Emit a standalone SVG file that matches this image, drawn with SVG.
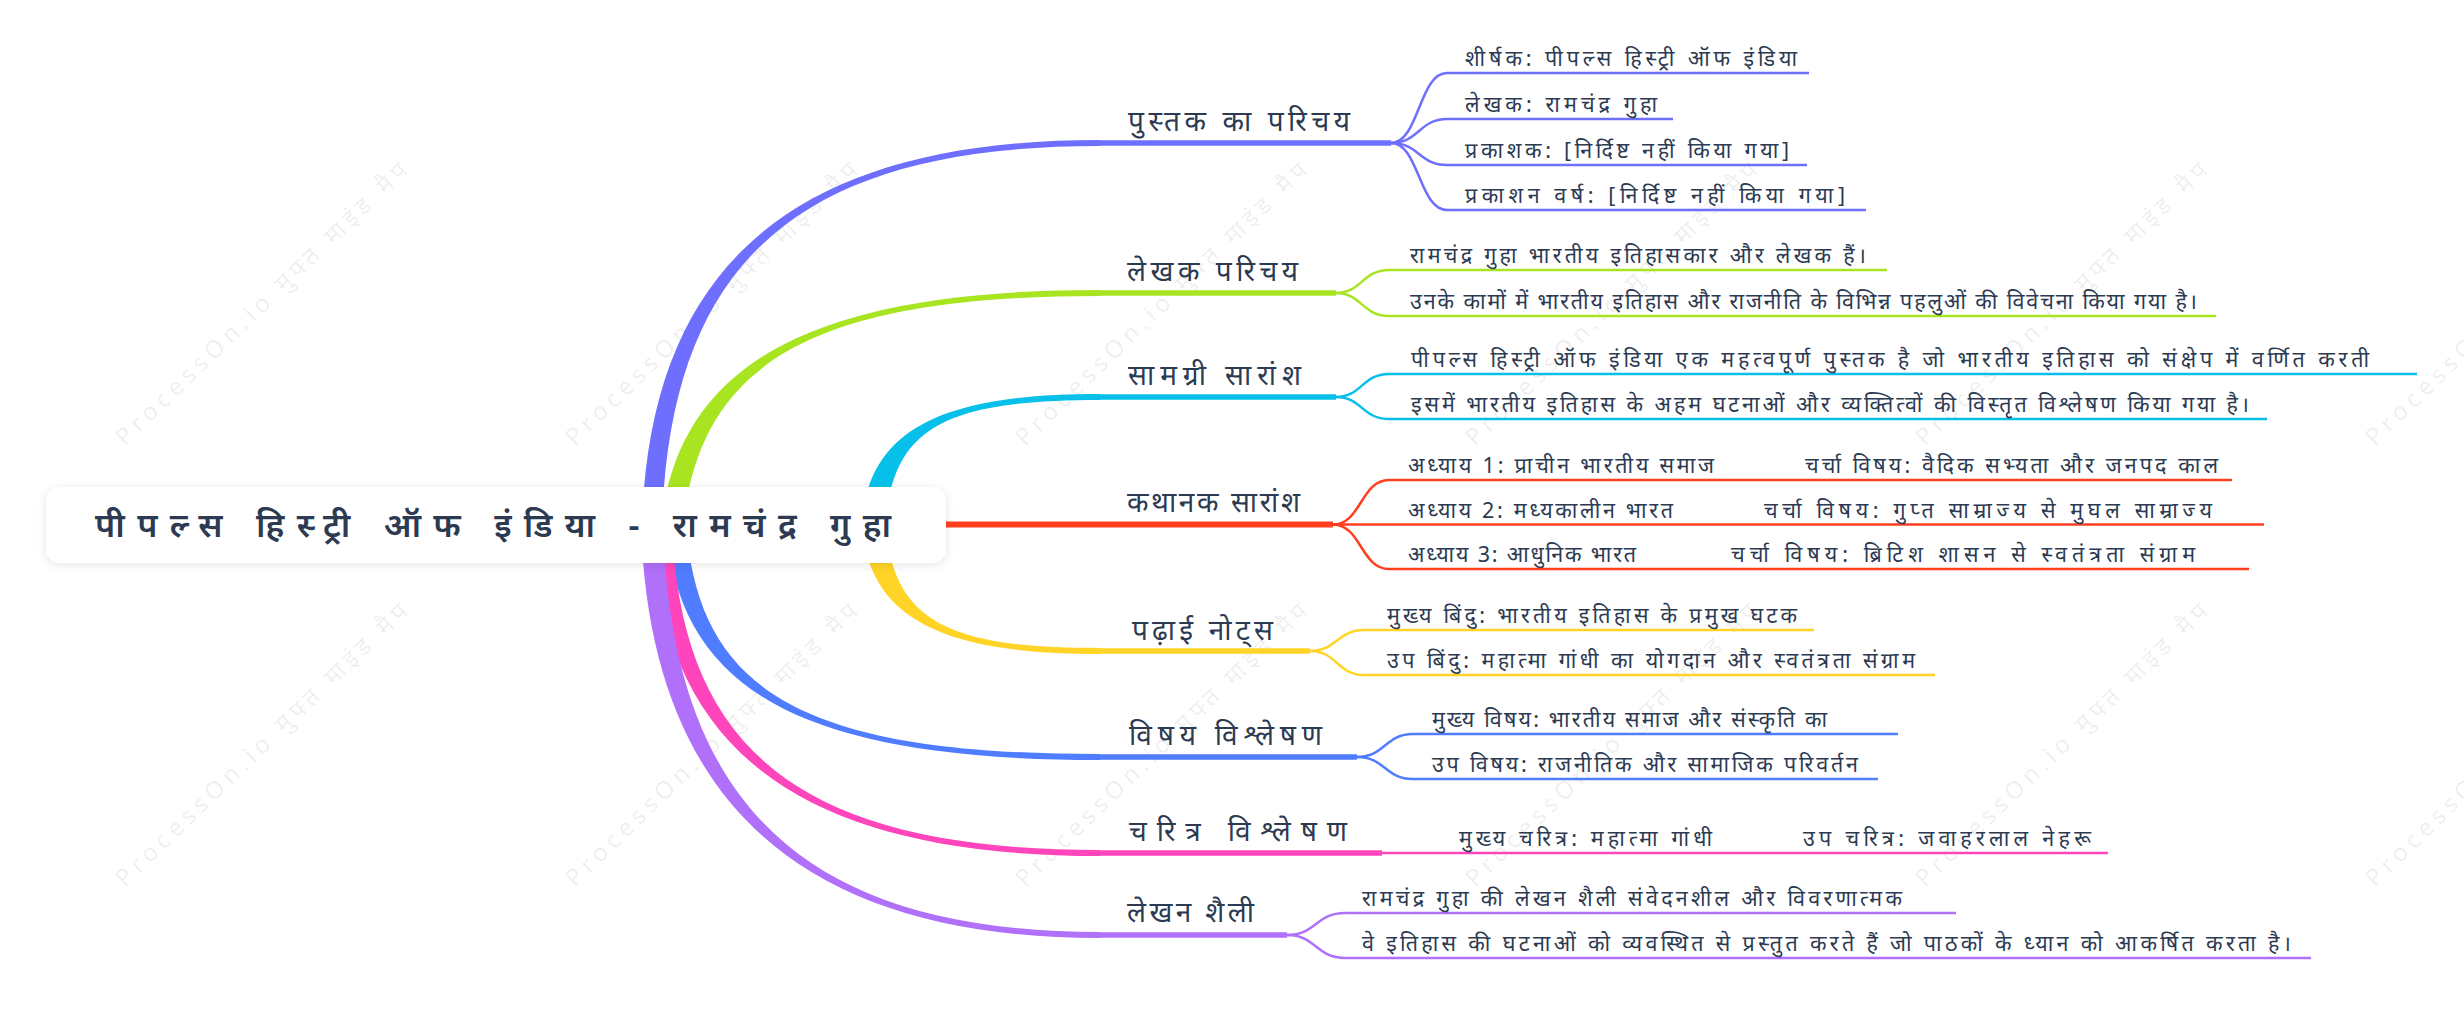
<svg xmlns="http://www.w3.org/2000/svg" width="2464" height="1019" viewBox="0 0 2464 1019">
<defs>
<filter id="sh" x="-5%" y="-30%" width="110%" height="160%">
<feDropShadow dx="0" dy="2" stdDeviation="5" flood-color="#000" flood-opacity="0.10"/>
</filter>
<style>
text{font-family:"Noto Sans","Liberation Sans",sans-serif;fill:#2c3a52}
.root{font-size:34px;font-weight:600}
.br{font-size:28px}
.lf{font-size:21.5px}
.wm{font-size:24px;fill:#000;fill-opacity:0.08}
.bl{fill:none;stroke-width:5.5}
.ll{fill:none;stroke-width:2.5}
</style>
</defs>
<rect width="2464" height="1019" fill="#fff"/>
<g id="watermarks">
<text class="wm" transform="translate(125,447) rotate(-44)" textLength="395" lengthAdjust="spacing">ProcessOn.io मुफ्त माइंड मैप</text>
<text class="wm" transform="translate(575,447) rotate(-44)" textLength="395" lengthAdjust="spacing">ProcessOn.io मुफ्त माइंड मैप</text>
<text class="wm" transform="translate(1025,447) rotate(-44)" textLength="395" lengthAdjust="spacing">ProcessOn.io मुफ्त माइंड मैप</text>
<text class="wm" transform="translate(1475,447) rotate(-44)" textLength="395" lengthAdjust="spacing">ProcessOn.io मुफ्त माइंड मैप</text>
<text class="wm" transform="translate(1925,447) rotate(-44)" textLength="395" lengthAdjust="spacing">ProcessOn.io मुफ्त माइंड मैप</text>
<text class="wm" transform="translate(2375,447) rotate(-44)" textLength="395" lengthAdjust="spacing">ProcessOn.io मुफ्त माइंड मैप</text>
<text class="wm" transform="translate(125,888) rotate(-44)" textLength="395" lengthAdjust="spacing">ProcessOn.io मुफ्त माइंड मैप</text>
<text class="wm" transform="translate(575,888) rotate(-44)" textLength="395" lengthAdjust="spacing">ProcessOn.io मुफ्त माइंड मैप</text>
<text class="wm" transform="translate(1025,888) rotate(-44)" textLength="395" lengthAdjust="spacing">ProcessOn.io मुफ्त माइंड मैप</text>
<text class="wm" transform="translate(1475,888) rotate(-44)" textLength="395" lengthAdjust="spacing">ProcessOn.io मुफ्त माइंड मैप</text>
<text class="wm" transform="translate(1925,888) rotate(-44)" textLength="395" lengthAdjust="spacing">ProcessOn.io मुफ्त माइंड मैप</text>
<text class="wm" transform="translate(2375,888) rotate(-44)" textLength="395" lengthAdjust="spacing">ProcessOn.io मुफ्त माइंड मैप</text>
</g>
<g id="connectors">
<path fill="#A8E520" d="M 661 524 C 679 370, 800 290, 1100 290 L 1100 296 C 800 296, 701 370, 683 524 Z"/>
<path fill="#6E6EFF" d="M 642 524 C 650 260, 800 140, 1100 140 L 1100 146 C 800 146, 670 260, 662 524 Z"/>
<path fill="#06C0EA" d="M 862 524 C 868 425, 950 394, 1100 394 L 1100 400 C 950 400, 892 425, 886 524 Z"/>
<path fill="#FFD426" d="M 862 524 C 868 625, 955 654, 1100 654 L 1100 648 C 955 648, 892 625, 886 524 Z"/>
<path fill="#507CFF" d="M 666 524 C 678 690, 800 760, 1100 760 L 1100 754 C 800 754, 698 690, 686 524 Z"/>
<path fill="#FF45BB" d="M 652 524 C 660 750, 800 856, 1100 856 L 1100 850 C 800 850, 680 750, 672 524 Z"/>
<path fill="#B070FA" d="M 641 524 C 649 800, 800 938, 1100 938 L 1100 932 C 800 932, 671 800, 663 524 Z"/>
<line x1="930" y1="524.5" x2="1333" y2="524.5" stroke="#FF3F1F" stroke-width="6"/>

<line class="bl" stroke="#6E6EFF" x1="1098" y1="143" x2="1391" y2="143"/>
<path class="ll" stroke="#6E6EFF" d="M 1391 143 C 1419 143 1419 73 1447 73 H 1809"/>
<path class="ll" stroke="#6E6EFF" d="M 1391 143 C 1419 143 1419 119 1447 119 H 1673"/>
<path class="ll" stroke="#6E6EFF" d="M 1391 143 C 1419 143 1419 165 1447 165 H 1807"/>
<path class="ll" stroke="#6E6EFF" d="M 1391 143 C 1419 143 1419 210 1447 210 H 1866"/>

<line class="bl" stroke="#A8E520" x1="1098" y1="293" x2="1336" y2="293"/>
<path class="ll" stroke="#A8E520" d="M 1336 293 C 1362 293 1362 270 1389 270 H 1887"/>
<path class="ll" stroke="#A8E520" d="M 1336 293 C 1362 293 1362 316 1389 316 H 2216"/>

<line class="bl" stroke="#06C0EA" x1="1098" y1="397" x2="1336" y2="397"/>
<path class="ll" stroke="#06C0EA" d="M 1336 397 C 1362 397 1362 374 1389 374 H 2417"/>
<path class="ll" stroke="#06C0EA" d="M 1336 397 C 1362 397 1362 419 1389 419 H 2267"/>

<path class="ll" stroke="#FF3F1F" d="M 1333 524.5 C 1361 524.5 1361 480 1389 480 H 2232"/>
<path class="ll" stroke="#FF3F1F" d="M 1333 524.5 H 2264"/>
<path class="ll" stroke="#FF3F1F" d="M 1333 524.5 C 1361 524.5 1361 569 1389 569 H 2249"/>

<line class="bl" stroke="#FFD426" x1="1098" y1="651" x2="1310" y2="651"/>
<path class="ll" stroke="#FFD426" d="M 1310 651 C 1337 651 1337 630 1364 630 H 1814"/>
<path class="ll" stroke="#FFD426" d="M 1310 651 C 1337 651 1337 675 1364 675 H 1935"/>

<line class="bl" stroke="#507CFF" x1="1098" y1="757" x2="1357" y2="757"/>
<path class="ll" stroke="#507CFF" d="M 1357 757 C 1385 757 1385 734 1413 734 H 1898"/>
<path class="ll" stroke="#507CFF" d="M 1357 757 C 1385 757 1385 779 1413 779 H 1878"/>

<line class="bl" stroke="#FF45BB" x1="1098" y1="853" x2="1382" y2="853"/>
<path class="ll" stroke="#FF45BB" d="M 1382 853 H 1729"/>
<path class="ll" stroke="#FF45BB" d="M 1729 853 H 2108"/>

<line class="bl" stroke="#B070FA" x1="1098" y1="935" x2="1287" y2="935"/>
<path class="ll" stroke="#B070FA" d="M 1287 935 C 1316 935 1316 913 1345 913 H 1956"/>
<path class="ll" stroke="#B070FA" d="M 1287 935 C 1316 935 1316 958 1345 958 H 2311"/>
</g>
<g id="root">
<rect x="46" y="487" width="900" height="76" rx="14" fill="#fff" filter="url(#sh)"/>
<text class="root" x="493" y="537" text-anchor="middle" textLength="796" lengthAdjust="spacing">पीपल्स हिस्ट्री ऑफ इंडिया - रामचंद्र गुहा</text>
</g>
<g id="b1">
<text class="br" x="1128" y="131" textLength="222" lengthAdjust="spacing">पुस्तक का परिचय</text>
<text class="lf" x="1465" y="66" textLength="332" lengthAdjust="spacing">शीर्षक: पीपल्स हिस्ट्री ऑफ इंडिया</text>
<text class="lf" x="1465" y="112" textLength="192" lengthAdjust="spacing">लेखक: रामचंद्र गुहा</text>
<text class="lf" x="1465" y="158" textLength="324" lengthAdjust="spacing">प्रकाशक: [निर्दिष्ट नहीं किया गया]</text>
<text class="lf" x="1465" y="203" textLength="380" lengthAdjust="spacing">प्रकाशन वर्ष: [निर्दिष्ट नहीं किया गया]</text>
</g>
<g id="b2">
<text class="br" x="1127" y="281" textLength="171" lengthAdjust="spacing">लेखक परिचय</text>
<text class="lf" x="1410" y="263" textLength="456" lengthAdjust="spacing">रामचंद्र गुहा भारतीय इतिहासकार और लेखक हैं।</text>
<text class="lf" x="1410" y="309" textLength="787" lengthAdjust="spacing">उनके कामों में भारतीय इतिहास और राजनीति के विभिन्न पहलुओं की विवेचना किया गया है।</text>
</g>
<g id="b3">
<text class="br" x="1128" y="385" textLength="173" lengthAdjust="spacing">सामग्री सारांश</text>
<text class="lf" x="1411" y="367" textLength="958" lengthAdjust="spacing">पीपल्स हिस्ट्री ऑफ इंडिया एक महत्वपूर्ण पुस्तक है जो भारतीय इतिहास को संक्षेप में वर्णित करती</text>
<text class="lf" x="1411" y="412" textLength="838" lengthAdjust="spacing">इसमें भारतीय इतिहास के अहम घटनाओं और व्यक्तित्वों की विस्तृत विश्लेषण किया गया है।</text>
</g>
<g id="b4">
<text class="br" x="1127" y="512" textLength="173" lengthAdjust="spacing">कथानक सारांश</text>
<text class="lf" x="1408" y="473" textLength="306" lengthAdjust="spacing">अध्याय 1: प्राचीन भारतीय समाज</text>
<text class="lf" x="1805" y="473" textLength="413" lengthAdjust="spacing">चर्चा विषय: वैदिक सभ्यता और जनपद काल</text>
<text class="lf" x="1408" y="518" textLength="265" lengthAdjust="spacing">अध्याय 2: मध्यकालीन भारत</text>
<text class="lf" x="1764" y="518" textLength="448" lengthAdjust="spacing">चर्चा विषय: गुप्त साम्राज्य से मुघल साम्राज्य</text>
<text class="lf" x="1408" y="562" textLength="228" lengthAdjust="spacing">अध्याय 3: आधुनिक भारत</text>
<text class="lf" x="1731" y="562" textLength="464" lengthAdjust="spacing">चर्चा विषय: ब्रिटिश शासन से स्वतंत्रता संग्राम</text>
</g>
<g id="b5">
<text class="br" x="1132" y="640" textLength="141" lengthAdjust="spacing">पढ़ाई नोट्स</text>
<text class="lf" x="1387" y="623" textLength="410" lengthAdjust="spacing">मुख्य बिंदु: भारतीय इतिहास के प्रमुख घटक</text>
<text class="lf" x="1387" y="668" textLength="528" lengthAdjust="spacing">उप बिंदु: महात्मा गांधी का योगदान और स्वतंत्रता संग्राम</text>
</g>
<g id="b6">
<text class="br" x="1129" y="745" textLength="193" lengthAdjust="spacing">विषय विश्लेषण</text>
<text class="lf" x="1432" y="727" textLength="395" lengthAdjust="spacing">मुख्य विषय: भारतीय समाज और संस्कृति का</text>
<text class="lf" x="1432" y="772" textLength="426" lengthAdjust="spacing">उप विषय: राजनीतिक और सामाजिक परिवर्तन</text>
</g>
<g id="b7">
<text class="br" x="1129" y="841" textLength="218" lengthAdjust="spacing">चरित्र विश्लेषण</text>
<text class="lf" x="1459" y="846" textLength="253" lengthAdjust="spacing">मुख्य चरित्र: महात्मा गांधी</text>
<text class="lf" x="1803" y="846" textLength="288" lengthAdjust="spacing">उप चरित्र: जवाहरलाल नेहरू</text>
</g>
<g id="b8">
<text class="br" x="1127" y="922" textLength="127" lengthAdjust="spacing">लेखन शैली</text>
<text class="lf" x="1362" y="906" textLength="540" lengthAdjust="spacing">रामचंद्र गुहा की लेखन शैली संवेदनशील और विवरणात्मक</text>
<text class="lf" x="1362" y="951" textLength="929" lengthAdjust="spacing">वे इतिहास की घटनाओं को व्यवस्थित से प्रस्तुत करते हैं जो पाठकों के ध्यान को आकर्षित करता है।</text>
</g>
</svg>
